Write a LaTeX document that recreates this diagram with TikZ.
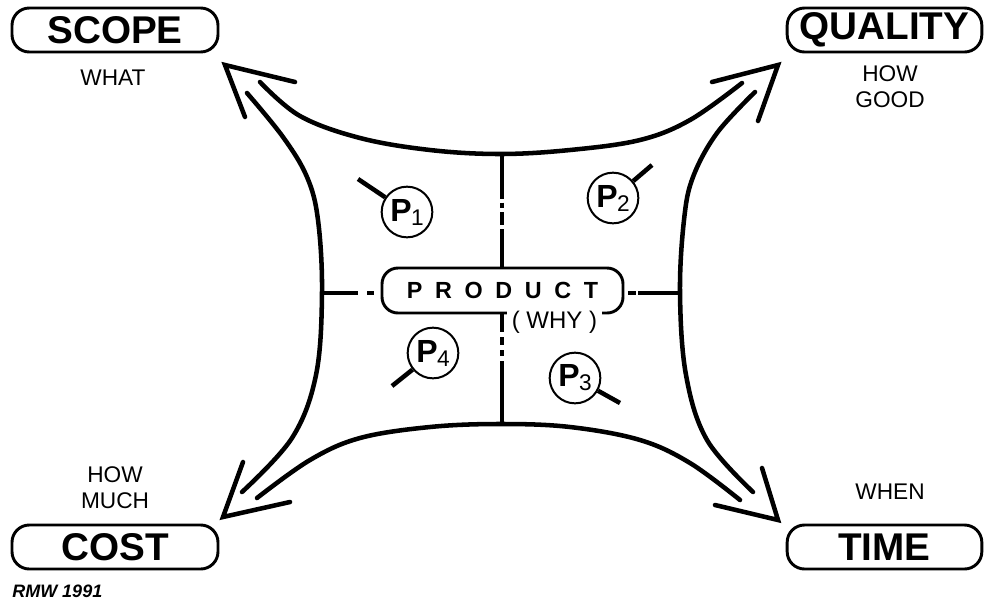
\documentclass[tikz,border=0pt]{standalone}
\usepackage{fontspec}
\setmainfont{Liberation Sans}
\newcommand\PLabel[1]{{\fontsize{24}{24}\selectfont\bfseries P}\kern-0.5pt\raisebox{-0.3em}{\fontsize{17}{17}\selectfont #1}}
\begin{document}
\begin{tikzpicture}[x=0.75pt,y=-0.75pt,
  titlebox/.style={draw, line width=2.2pt, rounded corners=13pt, minimum height=33pt,
    inner sep=0pt, font=\fontsize{29}{30}\selectfont\bfseries},
  lbl/.style={font=\fontsize{17}{19.5}\selectfont, align=center, inner sep=0pt},
  edgeline/.style={line width=3.4pt, line cap=round, line join=round},
  arrowhd/.style={line width=3.4pt, line cap=round, line join=miter},
  pcirc/.style={draw, circle, line width=1.5pt, minimum size=38pt, inner sep=0pt},
  tickline/.style={line width=3.4pt},
  divider/.style={line width=3pt}]
\useasboundingbox (0,0) rectangle (984,604);

% corner titles
\node[titlebox, minimum width=154.5pt] (scope) at (115,30) {SCOPE};
\node[titlebox, minimum width=146pt] (quality) at (884.5,30) {QUALITY};
\node[titlebox, minimum width=154.5pt] (cost) at (115,547) {COST};
\node[titlebox, minimum width=146pt] (time) at (884.5,547) {TIME};

\node[lbl] (what) at (113,78) {WHAT};
\node[lbl] (howgood) at (890,87) {HOW\\GOOD};
\node[lbl] (howmuch) at (115,488) {HOW\\MUCH};
\node[lbl] (when) at (890,492) {WHEN};
\node[anchor=west, inner sep=0pt, font=\fontsize{13.5}{14}\selectfont\bfseries\itshape] (rmw) at (12,591) {RMW 1991};

% cushion curves
\draw[edgeline] plot[smooth, tension=0.6] coordinates {(260,82) (300,116) (360,138) (430,150) (500,154) (570,150) (640,140) (690,120) (742,83)};
\draw[edgeline] plot[smooth, tension=0.6] coordinates {(247,93) (283,137) (307,177) (318,220) (322,293) (316,375) (292,438) (242,492)};
\draw[edgeline] plot[smooth, tension=0.6] coordinates {(755,92) (717,133) (693,177) (684,220) (680,293) (686,375) (707,440) (753,492)};
\draw[edgeline] plot[smooth, tension=0.6] coordinates {(257,498) (310,460) (360,438) (430,427) (500,424) (570,427) (640,440) (690,463) (740,500)};

% arrow heads
\draw[arrowhd] (295,82) -- (225,65) -- (245,117);
\draw[arrowhd] (712,82) -- (778,65) -- (758,121);
\draw[arrowhd] (243,462) -- (223,517) -- (290,502);
\draw[arrowhd] (762,468) -- (778,520) -- (715,505);

% product box
\node[draw, line width=2.2pt, rounded corners=12pt, minimum width=180.75pt, minimum height=33.75pt,
  inner sep=0pt, font=\fontsize{17.5}{18}\selectfont\bfseries] (product) at (502.5,290.5)
  {P\kern9.5pt R\kern9.5pt O\kern9.5pt D\kern9.5pt U\kern9.5pt C\kern9.5pt T};
\node[fill=white, inner xsep=4pt, inner ysep=1pt, font=\fontsize{18}{19}\selectfont] (why) at (554.5,322) {( WHY )};

\coordinate (tmid) at (502,154);
\coordinate (bmid) at (502,424);
\coordinate (lmid) at (322,293);
\coordinate (rmid) at (680,293);

\draw[divider, dash pattern=on 34pt off 2.5pt on 4pt off 3pt on 10pt off 3pt on 40pt] (tmid) -- (tmid |- product.north);
\draw[divider, dash pattern=on 13pt off 4pt on 6pt off 4pt on 4pt off 4pt on 50pt] (bmid |- product.south) -- (bmid);
\draw[divider, dash pattern=on 27pt off 7pt on 5pt off 20pt] (lmid) -- (lmid -| product.west);
\draw[divider, dash pattern=on 0pt off 2.5pt on 6pt off 2pt on 40pt] (rmid -| product.east) -- (rmid);

% P circles
\node[pcirc] (p1) at (407,212) {\PLabel{1}};
\node[pcirc] (p2) at (613,198) {\PLabel{2}};
\node[pcirc] (p3) at (575,378) {\PLabel{3}};
\node[pcirc] (p4) at (433,353) {\PLabel{4}};
\coordinate (t1) at (358,179);
\coordinate (t2) at (652,165);
\coordinate (t3) at (620,403);
\coordinate (t4) at (392,386);
\draw[tickline] (p1.146) -- (t1);
\draw[tickline] (p2.40) -- (t2);
\draw[tickline] (p3.331) -- (t3);
\draw[tickline] (p4.219) -- (t4);
\end{tikzpicture}
\end{document}
